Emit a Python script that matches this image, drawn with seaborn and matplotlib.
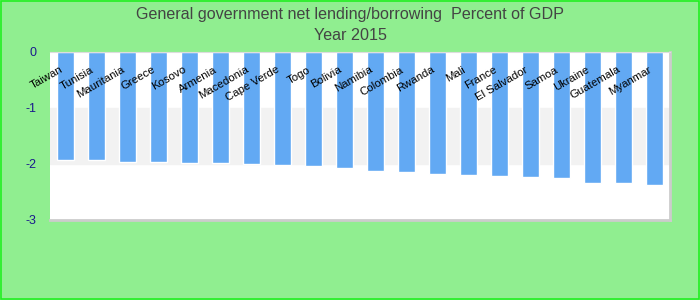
import matplotlib
matplotlib.use("Agg")
import matplotlib.pyplot as plt
import seaborn as sns
import pandas as pd

countries = ["Taiwan", "Tunisia", "Mauritania", "Greece", "Kosovo", "Armenia",
             "Macedonia", "Cape Verde", "Togo", "Bolivia", "Namibia", "Colombia",
             "Rwanda", "Mali", "France", "El Salvador", "Samoa", "Ukraine",
             "Guatemala", "Myanmar"]
values = [-1.93, -1.93, -1.96, -1.96, -1.98, -1.98, -2.00, -2.02, -2.04, -2.07,
          -2.13, -2.14, -2.18, -2.20, -2.21, -2.23, -2.25, -2.34, -2.34, -2.38]
yticks = [0, -1, -2, -3]
title1 = "General government net lending/borrowing  Percent of GDP"
title2 = "Year 2015"

df = pd.DataFrame({"country": countries, "value": values})

sns.set_theme(style="white")
plt.rcParams["font.family"] = ["Liberation Sans", "DejaVu Sans"]

fig = plt.figure(figsize=(7, 3), dpi=100, facecolor="#90ee90")
ax = fig.add_axes([50/700, 80/300, 620/700, 168/300])
ax.set_facecolor("white")

ax.axhspan(-1, -2, color="#f2f2f2", zorder=0)

sns.barplot(data=df, x="country", y="value", order=countries, color="#62a9f3",
            saturation=1, width=0.55, ax=ax, zorder=2)

ax.set_ylim(-3, 0)
ax.set_xlim(-0.5, len(countries) - 0.5)
ax.set_yticks(yticks)
ax.set_yticklabels([str(t) for t in yticks], color="#1a1a8c", fontsize=9)
ax.tick_params(axis="y", length=0, pad=10)
ax.set_xticks([])
ax.set_xlabel("")
ax.set_ylabel("")

ax.spines["left"].set_visible(False)
ax.spines["top"].set_color("#dddddd")
ax.spines["top"].set_linewidth(0.8)
for s in ["bottom", "right"]:
    ax.spines[s].set_color("#cccccc")
    ax.spines[s].set_linewidth(2)

for i, c in enumerate(countries):
    ax.text(i - 0.12, -0.3, c, rotation=30, ha="right", va="center",
            rotation_mode="anchor", fontsize=8.2, color="black", zorder=5)

fig.text(0.5, 1 - 15/300, title1, ha="center", va="center", fontsize=11.6, color="#444444")
fig.text(0.5, 1 - 36/300, title2, ha="center", va="center", fontsize=11.6, color="#444444")

border = plt.Rectangle((0.001, 0.002), 0.997, 0.995, transform=fig.transFigure,
                       fill=False, edgecolor="#22ee22", linewidth=1.2)
fig.patches.append(border)

fig.savefig("out.png", dpi=100, facecolor=fig.get_facecolor())
